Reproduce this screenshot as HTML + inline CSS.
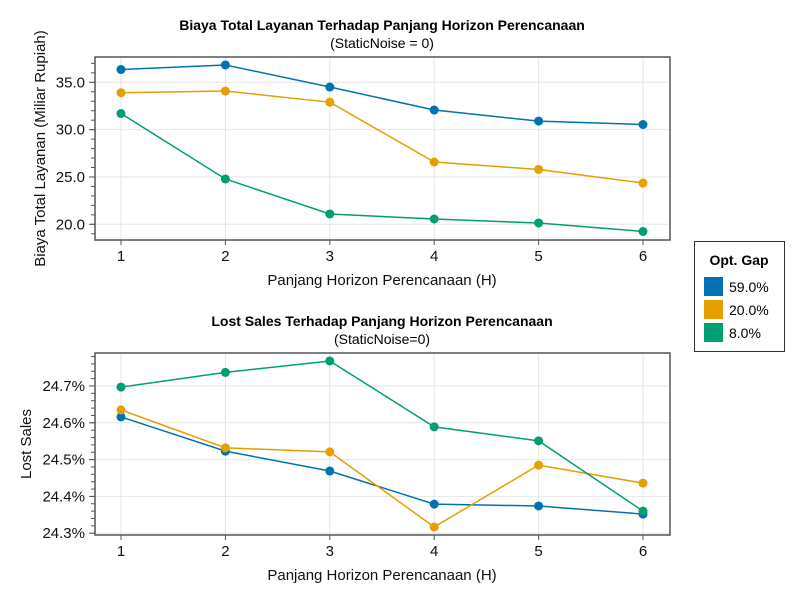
<!DOCTYPE html>
<html><head><meta charset="utf-8"><style>
body{margin:0;background:#fff;font-family:"Liberation Sans",sans-serif}
</style></head><body>
<svg id="c" width="800" height="600" xmlns="http://www.w3.org/2000/svg" font-family="Liberation Sans, sans-serif"></svg>
<script>
const hLabels=[1,2,3,4,5,6];
const costBlue=[36.35,36.83,34.5,32.07,30.9,30.54];
const costOrange=[33.9,34.08,32.9,26.58,25.79,24.36];
const costGreen=[31.7,24.79,21.09,20.56,20.14,19.24];
const lostBlue=[24.616,24.523,24.469,24.379,24.374,24.352];
const lostOrange=[24.635,24.532,24.521,24.317,24.485,24.436];
const lostGreen=[24.697,24.737,24.768,24.589,24.551,24.36];
const costTicks=[20,25,30,35];
const lostTicks=[24.3,24.4,24.5,24.6,24.7];
const seriesNames=["59.0%","20.0%","8.0%"];
const colors=["#0072b2","#e69f00","#009e73"];
const svg=document.getElementById('c');
const NS="http://www.w3.org/2000/svg";
function mk(tag,attrs,parent){const e=document.createElementNS(NS,tag);for(const k in attrs)e.setAttribute(k,attrs[k]);(parent||svg).appendChild(e);return e;}
function txt(s,attrs,parent){const e=mk('text',attrs,parent);e.textContent=s;return e;}
function panel(p){
  const g=mk('g',{});
  
  
  const X=v=>121+(v-1)*104.4;
  const Y=v=>p.y0+(v-p.v0)*p.k;
  for(const t of hLabels){mk('line',{x1:X(t),x2:X(t),y1:p.top,y2:p.bot,stroke:'#e6e6e6'},g);}
  for(const t of p.ticks){mk('line',{x1:95,x2:670,y1:Y(t),y2:Y(t),stroke:'#e6e6e6'},g);}
  mk('rect',{x:95,y:p.top,width:575,height:p.bot-p.top,fill:'none',stroke:'#555','stroke-width':1.5},g);
  for(let v=p.mlo;v<=p.mhi+1e-9;v+=p.mstep){const y=Y(v);if(y<p.top||y>p.bot)continue;mk('line',{x1:91,x2:95,y1:y,y2:y,stroke:'#555'},g);}
  for(const t of p.ticks){const y=Y(t);mk('line',{x1:89,x2:95,y1:y,y2:y,stroke:'#555'},g);
    const l=txt(p.fmt(t),{x:85,y:y+5,'text-anchor':'end','font-size':15,fill:'#111'},g);
    }
  for(const t of hLabels){mk('line',{x1:X(t),x2:X(t),y1:p.bot,y2:p.bot+5,stroke:'#555'},g);
    const l=txt(String(t),{x:X(t),y:p.bot+21,'text-anchor':'middle','font-size':15,fill:'#111'},g);
    }
  p.series.forEach((s,i)=>{
    const pl=mk('polyline',{points:s.map((v,j)=>X(hLabels[j])+','+Y(v)).join(' '),fill:'none',stroke:colors[i],'stroke-width':1.5},g);
    
    s.forEach((v,j)=>{const c=mk('circle',{cx:X(hLabels[j]),cy:Y(v),r:4.5,fill:colors[i]},g);
      });
  });
  const t1=txt(p.title,{x:382,y:p.top-27,'text-anchor':'middle','font-size':14,'font-weight':'bold',fill:'#000'},g);
  
  const t2=txt(p.sub,{x:382,y:p.top-9,'text-anchor':'middle','font-size':14,fill:'#000'},g);
  
  const xt=txt('Panjang Horizon Perencanaan (H)',{x:382,y:p.bot+45,'text-anchor':'middle','font-size':15,fill:'#111'},g);
  
  const cy=(p.top+p.bot)/2;
  const yt=txt(p.ytitle,{x:p.ytx,y:cy,'text-anchor':'middle','font-size':15,fill:'#111',transform:`rotate(-90 ${p.ytx} ${cy})`},g);
  
}
panel({name:'cost-panel',top:57,bot:240,y0:82.3,v0:35,k:-9.467,ticks:costTicks,mlo:18,mhi:38,mstep:1,fmt:v=>v.toFixed(1),
  series:[costBlue,costOrange,costGreen],title:'Biaya Total Layanan Terhadap Panjang Horizon Perencanaan',sub:'(StaticNoise = 0)',ytitle:'Biaya Total Layanan (Miliar Rupiah)',ytx:45});
panel({name:'lost-sales-panel',top:353,bot:535,y0:386,v0:24.7,k:-368,ticks:lostTicks,mlo:24.28,mhi:24.8,mstep:0.02,fmt:v=>v.toFixed(1)+'%',
  series:[lostBlue,lostOrange,lostGreen],title:'Lost Sales Terhadap Panjang Horizon Perencanaan',sub:'(StaticNoise=0)',ytitle:'Lost Sales',ytx:31});
const lg=mk('g',{});


mk('rect',{x:694.5,y:241.5,width:90,height:110,fill:'#fff',stroke:'#333'},lg);
txt('Opt. Gap',{x:739,y:265,'text-anchor':'middle','font-size':14,'font-weight':'bold'},lg);
seriesNames.forEach((n,i)=>{
  const e=mk('g',{},lg);
  
  
  mk('rect',{x:704,y:277+i*23,width:19,height:19,fill:colors[i]},e);
  txt(n,{x:729,y:292+i*23,'font-size':14},e);
});
</script>
</body></html>
